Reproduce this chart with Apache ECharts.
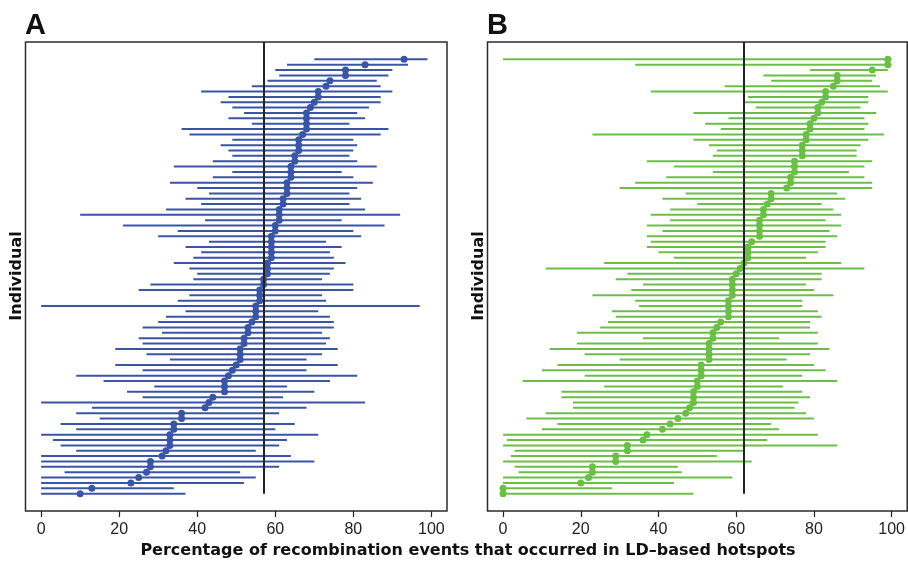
<!DOCTYPE html>
<html>
<head>
<meta charset="utf-8">
<script src="https://cdn.jsdelivr.net/npm/echarts@6/dist/echarts.min.js"></script>
<style>
  html, body { margin: 0; padding: 0; background: #fff; }
  #chart { width: 908px; height: 563px; }
</style>
</head>
<body>
<div id="chart"></div>
<script>
// Panel A: per-individual estimate with interval (percent), ordered top to bottom
const aLow  = [70,63,60,61,58,54,41,48,46,49,52,48,54,36,38,49,46,48,49,44,
               34,49,44,33,40,43,37,41,32,10,42,21,35,30,43,37,41,39,34,38,
               40,39,28,25,38,35,0,37,32,30,26,31,25,26,19,27,33,19,26,9,
               16,29,22,26,0,13,9,15,5,9,0,3,5,9,0,0,0,6,0,0,0,0];
const aEst  = [93,83,78,78,74,73,71,71,70,69,68,68,68,68,67,66,66,66,65,65,
               64,64,64,63,63,63,62,62,61,61,61,60,60,59,59,59,59,59,58,58,
               58,57,57,56,56,56,55,55,55,54,53,53,52,52,51,51,51,50,49,48,
               47,47,47,44,43,42,36,36,34,34,33,33,33,32,31,28,28,27,25,23,13,10];
const aHigh = [99,94,90,89,86,87,90,87,87,84,81,83,79,89,87,80,81,80,79,81,
               86,77,80,85,81,79,82,79,83,92,77,88,80,82,73,77,74,75,78,75,
               74,72,80,80,72,73,97,71,74,75,75,72,74,73,76,72,68,76,68,81,
               74,63,70,62,83,68,61,57,65,60,71,63,61,55,64,70,61,51,55,52,34,37];

// Panel B
const bLow  = [0,34,79,67,69,57,38,63,62,65,49,58,52,56,23,49,53,55,54,37,
               44,54,42,34,30,47,41,50,43,38,43,37,41,37,38,37,40,44,26,11,
               32,29,36,33,23,34,35,28,29,27,25,19,36,19,12,21,30,14,10,21,
               5,26,15,15,18,18,11,6,14,10,0,1,0,3,2,0,3,4,0,0,0,0];
const bEst  = [99,99,95,86,86,85,83,83,82,81,81,80,79,79,78,78,77,77,77,75,
               75,75,74,74,73,69,69,68,67,67,66,66,66,66,64,63,63,63,62,61,
               60,59,59,59,59,58,58,58,58,56,55,54,54,53,53,53,53,51,51,51,
               50,50,49,49,49,48,47,45,43,41,37,36,32,32,29,29,23,23,22,20,0,0];
const bHigh = [100,100,99,96,95,97,99,94,94,92,96,93,94,93,98,94,92,91,91,95,
               93,89,93,95,95,86,88,82,85,87,83,87,84,86,83,83,81,78,87,93,
               82,82,78,80,85,77,77,81,82,79,79,81,71,81,84,79,73,80,83,77,
               86,72,77,79,76,75,78,80,69,71,81,68,86,62,55,64,45,46,59,44,28,49];

// Reference line position for each panel
const refLine = [57, 62];
const panelLetters = ['A', 'B'];
const tickValues = [0, 20, 40, 60, 80, 100];
const xTitle = 'Percentage of recombination events that occurred in LD\u2013based hotspots';
const yTitle = 'Individual';

const colors = ['#3a55a5', '#6bbf47'];
const plain = '"Liberation Sans", Arial, sans-serif';
const heavy = '"DejaVu Sans", "Liberation Sans", Arial, sans-serif';
const nRows = aEst.length;
const pad = (nRows - 1) * 0.04;

function intervalData(lo, hi) {
  return lo.map((v, i) => [i + 1, v, hi[i]]);
}
function pointData(est) {
  return est.map((v, i) => [v, i + 1]);
}

const chart = echarts.init(document.getElementById('chart'), null, { renderer: 'canvas' });

const grids = [
  { left: 25.5, top: 42, width: 421.5, height: 469 },
  { left: 487.5, top: 42, width: 421.5, height: 469 }
].map(g => Object.assign(g, {
  show: true, borderColor: '#2b2b2b', borderWidth: 1.5, backgroundColor: 'transparent', containLabel: false
}));

const xAxes = [0, 1].map(i => ({
  type: 'value', gridIndex: i, min: -4, max: 104, position: 'bottom',
  axisLine: { show: false, onZero: false },
  splitLine: { show: false },
  axisTick: { show: true, length: 6, customValues: tickValues, lineStyle: { color: '#222', width: 1.2 } },
  axisLabel: { customValues: tickValues, margin: 11, fontFamily: plain, fontSize: 16, color: '#222' }
}));

const yAxes = [0, 1].map(i => ({
  type: 'value', gridIndex: i, inverse: true, min: 1 - pad, max: nRows + pad,
  axisLine: { show: false, onZero: false }, axisTick: { show: false }, axisLabel: { show: false }, splitLine: { show: false }
}));

const sets = [[aLow, aEst, aHigh], [bLow, bEst, bHigh]];
const series = [];
sets.forEach((s, i) => {
  const col = colors[i];
  series.push({
    type: 'custom', xAxisIndex: i, yAxisIndex: i, silent: true,
    data: intervalData(s[0], s[2]),
    encode: { x: [1, 2], y: 0 },
    renderItem: function (params, api) {
      const row = api.value(0);
      const p1 = api.coord([api.value(1), row]);
      const p2 = api.coord([api.value(2), row]);
      return {
        type: 'line',
        shape: { x1: p1[0], y1: p1[1], x2: p2[0], y2: p2[1] },
        style: { stroke: col, lineWidth: 2 }
      };
    },
    markLine: {
      silent: true, symbol: 'none', animation: false,
      label: { show: false },
      lineStyle: { color: '#222', width: 2, type: 'solid' },
      data: [[{ coord: [refLine[i], 1 - pad] }, { coord: [refLine[i], nRows] }]]
    }
  });
  series.push({
    type: 'scatter', xAxisIndex: i, yAxisIndex: i, silent: true,
    data: pointData(s[1]),
    symbol: 'circle', symbolSize: 7,
    itemStyle: { color: col, opacity: 1 }
  });
});

const graphics = [];
[25, 487].forEach((x, i) => {
  graphics.push({
    type: 'text', left: x, top: 11,
    style: { text: panelLetters[i], font: 'bold 29px ' + plain, fill: '#111' }
  });
});
[17, 479].forEach(x => {
  graphics.push({
    type: 'text', x: x, y: 276, rotation: Math.PI / 2,
    style: { text: yTitle, font: 'bold 16px ' + heavy, fill: '#111', align: 'center', verticalAlign: 'middle' }
  });
});
graphics.push({
  type: 'text', x: 468, y: 551,
  style: { text: xTitle, font: 'bold 16px ' + heavy, fill: '#111', align: 'center', verticalAlign: 'middle' }
});

chart.setOption({
  animation: false,
  grid: grids,
  xAxis: xAxes,
  yAxis: yAxes,
  series: series,
  graphic: graphics
});
</script>
</body>
</html>
